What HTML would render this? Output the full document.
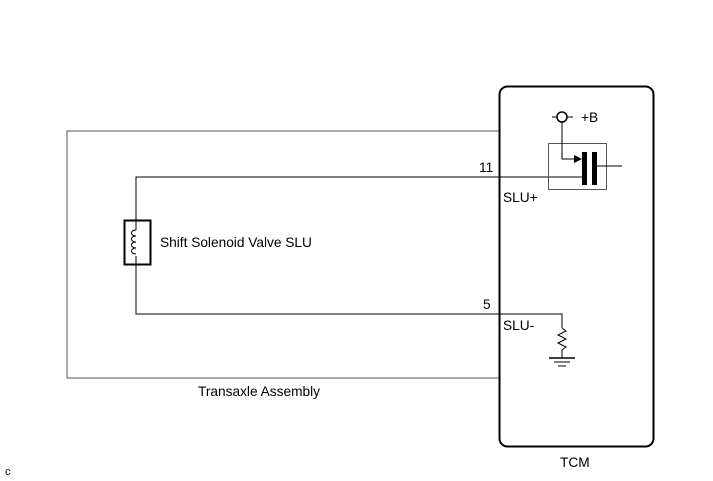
<!DOCTYPE html>
<html><head><meta charset="utf-8"><style>
html,body{margin:0;padding:0;background:#fff;}
svg{display:block}
text{font-family:"Liberation Sans",Arial,sans-serif;font-size:13.7px;fill:#000}
</style></head><body>
<svg width="713" height="481" viewBox="0 0 713 481" xmlns="http://www.w3.org/2000/svg">
<polyline points="499,131 67,131 67,378 499,378" fill="none" stroke="#555" stroke-width="1"/>
<rect x="499.5" y="86.5" width="154" height="360" rx="8" ry="8" fill="none" stroke="#000" stroke-width="2"/>
<polyline points="582,177 136,177 136,220" fill="none" stroke="#000" stroke-width="1"/>
<rect x="124.5" y="220.5" width="26" height="44" fill="none" stroke="#000" stroke-width="2"/>
<line x1="136" y1="221" x2="136" y2="230" stroke="#000"/>
<line x1="136" y1="256" x2="136" y2="264" stroke="#000"/>
<path d="M136,230 c-6,0 -6,6 0,6 c-6,0 -6,6 0,6 c-6,0 -6,6 0,6 c-6,0 -6,6 0,6" fill="none" stroke="#000" stroke-width="1"/>
<polyline points="136,265 136,314 562,314 562,328" fill="none" stroke="#000" stroke-width="1"/>
<polyline points="562,328 566,331 558,335 566,339 558,343 566,347 562,350 562,358" fill="none" stroke="#000" stroke-width="1"/>
<line x1="549" y1="358" x2="575" y2="358" stroke="#000" stroke-width="1.5"/>
<line x1="554" y1="362" x2="570" y2="362" stroke="#000" stroke-width="1"/>
<line x1="558" y1="366" x2="566" y2="366" stroke="#000" stroke-width="1"/>
<rect x="548.5" y="143.5" width="58" height="46" fill="none" stroke="#555" stroke-width="1"/>
<line x1="552" y1="117" x2="573" y2="117" stroke="#000"/>
<circle cx="562" cy="117" r="5" fill="#fff" stroke="#000" stroke-width="1.5"/>
<polyline points="562,122 562,159 574,159" fill="none" stroke="#000"/>
<polygon points="574,155 582,159 574,163" fill="#000"/>
<rect x="582" y="152" width="5" height="33" fill="#000"/>
<rect x="592" y="152" width="5" height="33" fill="#000"/>
<line x1="597" y1="166" x2="622" y2="166" stroke="#000"/>
<text x="581" y="122">+B</text>
<text x="479" y="172">11</text>
<text x="483" y="309">5</text>
<text x="503" y="202">SLU+</text>
<text x="503" y="330">SLU-</text>
<text x="160" y="247">Shift Solenoid Valve SLU</text>
<text x="198" y="396">Transaxle Assembly</text>
<text x="560" y="467">TCM</text>
<text x="5" y="475" style="font-size:11px">c</text>
</svg>
</body></html>
